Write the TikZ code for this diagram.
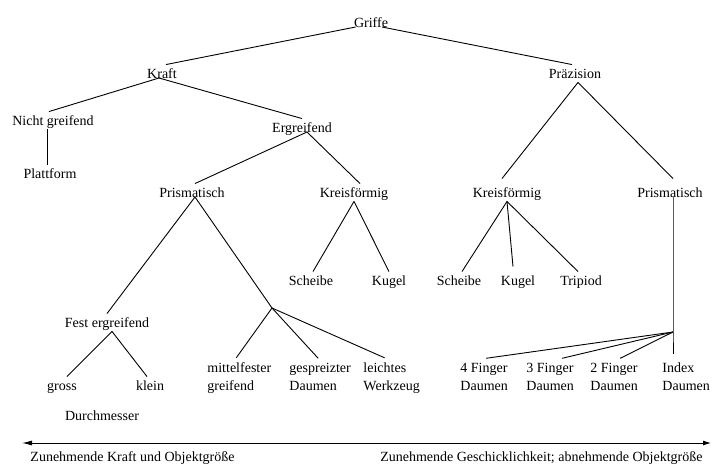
\documentclass[tikz,border=0pt]{standalone}
\usepackage{fontspec}
\setmainfont{Liberation Serif}
\usetikzlibrary{arrows.meta}

\begin{document}
\begin{tikzpicture}[x=1pt, y=-1pt, line width=0.9pt,
    every node/.style={font=\fontsize{14}{18}\selectfont, inner sep=0pt},
    knoten/.style={anchor=base, text height=13pt, text depth=4pt},
    zweizeilig/.style={anchor=base west, align=left, inner ysep=4pt}]
    \useasboundingbox (0,0) rectangle (712,464);

    % Wurzel und erste Ebene
    \node[knoten] (griffe) at (371,27) {Griffe};
    \node[knoten] (kraft) at (162,78) {Kraft};
    \node[knoten] (praez) at (575,78) {Präzision};

    % Kraftgriffe
    \node[knoten] (nichtgr) at (53,125) {Nicht greifend};
    \node[knoten] (ergr) at (302,132) {Ergreifend};
    \node[knoten] (plattf) at (50,178) {Plattform};
    \node[knoten] (prismL) at (192,197) {Prismatisch};
    \node[knoten] (kreisL) at (354,197) {Kreisförmig};
    \node[knoten] (scheibeL) at (311,285) {Scheibe};
    \node[knoten] (kugelL) at (389,285) {Kugel};
    \node[knoten] (fest) at (107,327) {Fest ergreifend};
    \node[knoten] (gross) at (62,390) {gross};
    \node[knoten] (klein) at (150,390) {klein};
    \node[knoten] (durchm) at (102,420) {Durchmesser};
    \node[zweizeilig] (mittel) at (207,390) {mittelfester\\greifend};
    \node[zweizeilig] (gespr) at (289,390) {gespreizter\\Daumen};
    \node[zweizeilig] (leicht) at (363,390) {leichtes\\Werkzeug};
    \coordinate (jL) at (272,308);

    % Praezisionsgriffe
    \node[knoten] (kreisR) at (507,197) {Kreisförmig};
    \node[knoten] (prismR) at (670,197) {Prismatisch};
    \node[knoten] (scheibeR) at (459,285) {Scheibe};
    \node[knoten] (kugelR) at (518,285) {Kugel};
    \node[knoten] (tripiod) at (581,285) {Tripiod};
    \node[zweizeilig] (vierf) at (460,390) {4 Finger\\Daumen};
    \node[zweizeilig] (dreif) at (526,390) {3 Finger\\Daumen};
    \node[zweizeilig] (zweif) at (590,390) {2 Finger\\Daumen};
    \node[zweizeilig] (index) at (662,390) {Index\\Daumen};
    \coordinate (jR) at (673,332);

    % Kanten oben
    \draw ([xshift=2]griffe.base west) -- ([xshift=4]kraft.north);
    \draw ([xshift=11]griffe.base) -- ([xshift=-3]praez.north);
    \draw ([xshift=-3]kraft.base) -- ([xshift=-4]nichtgr.north);
    \draw ([xshift=-3]kraft.base) -- (ergr.north);
    \draw ([xshift=-6]nichtgr.south) -- ([xshift=-3]plattf.north);
    \draw ([xshift=5]ergr.base) -- ([xshift=3]prismL.north);
    \draw ([xshift=5]ergr.base) -- ([xshift=6]kreisL.north);
    \draw ([xshift=3]praez.south) -- ([xshift=-5,yshift=5]kreisR.north);
    \draw ([xshift=3]praez.south) -- ([xshift=3,yshift=5]prismR.north);

    % Kanten links
    \draw ([xshift=3]prismL.base) -- ([xshift=0]fest.north);
    \draw ([xshift=3]prismL.base) -- (jL);
    \draw (jL) -- ([xshift=-3]mittel.north);
    \draw (jL) -- ([xshift=-2]gespr.north);
    \draw (jL) -- ([xshift=-7]leicht.north);
    \draw ([xshift=5]fest.south) -- ([xshift=5]gross.north);
    \draw ([xshift=5]fest.south) -- ([xshift=-3]klein.north);
    \draw (kreisL.south) -- ([xshift=2]scheibeL.north);
    \draw (kreisL.south) -- (kugelL.north);

    % Kanten rechts
    \draw (kreisR.south) -- ([xshift=3]scheibeR.north);
    \draw (kreisR.south) -- ([xshift=-5,yshift=5]kugelR.north);
    \draw (kreisR.south) -- ([xshift=-3]tripiod.north);
    \draw ([xshift=3]prismR.base) -- (jR) -- ([yshift=4]jR |- index.north);
    \draw (jR) -- ([xshift=2]vierf.north);
    \draw (jR) -- ([xshift=12]dreif.north);
    \draw (jR) -- ([xshift=6]zweif.north);

    % Doppelpfeil unten
    \coordinate (links) at (22,443);
    \coordinate (rechts) at (711,443);
    \draw[{Latex[length=10pt,width=5pt]}-{Latex[length=8pt,width=5pt]}] (links) -- (rechts);
    \node[knoten, anchor=base west] (kraftgr) at (30,461) {Zunehmende Kraft und Objektgröße};
    \node[knoten, anchor=base east] (geschick) at (703,461) {Zunehmende Geschicklichkeit; abnehmende Objektgröße};
\end{tikzpicture}
\end{document}
